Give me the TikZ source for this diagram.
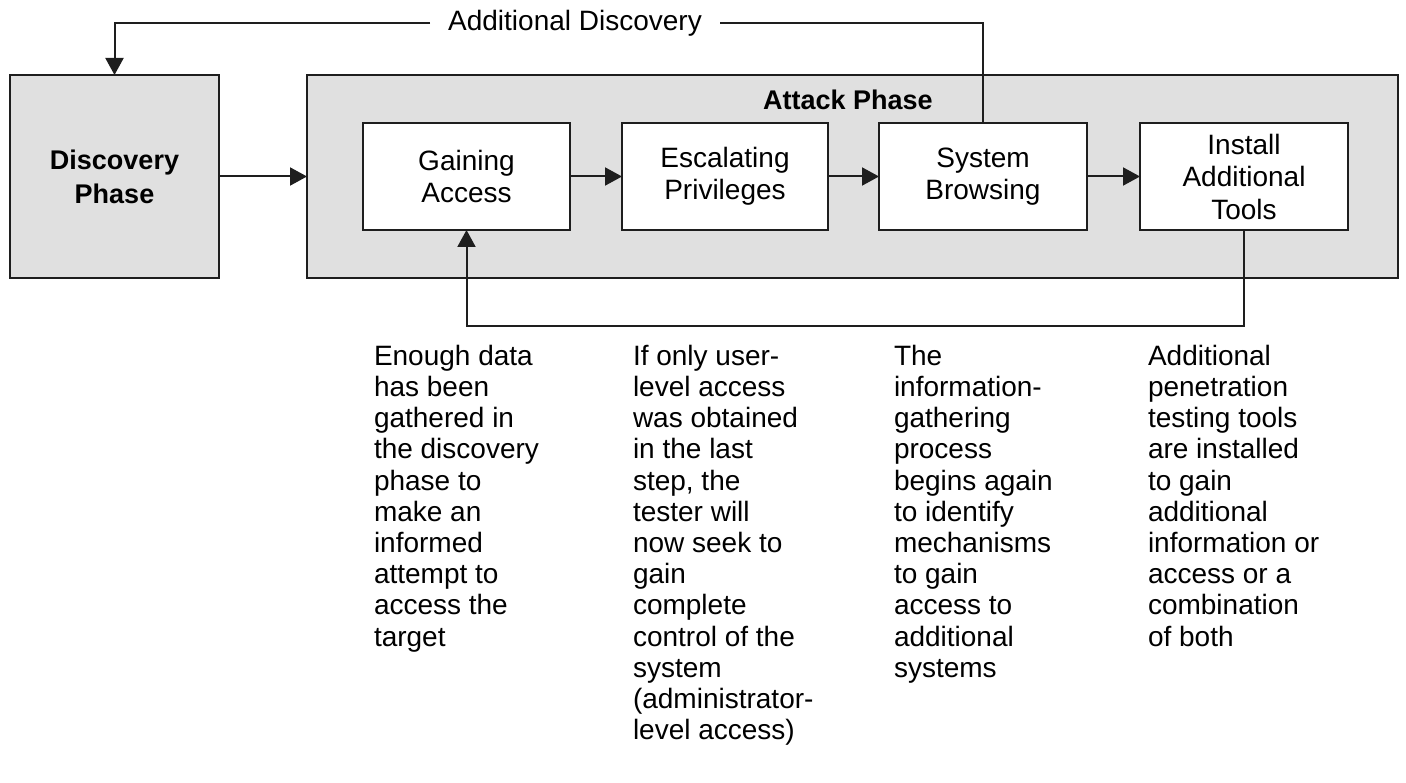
\documentclass[tikz,border=0pt]{standalone}
\usepackage{fontspec}
\setmainfont{Liberation Sans}
\usetikzlibrary{arrows.meta}
\definecolor{phasegray}{RGB}{224,224,224}
\definecolor{ink}{RGB}{30,30,30}
\tikzset{
  every node/.style={inner sep=0pt, outer sep=0pt},
  phasebox/.style={draw=ink, line width=2.2pt, fill=phasegray, rectangle},
  stepbox/.style={draw=ink, line width=2.2pt, fill=white, rectangle,
    minimum width=207pt, minimum height=107pt, align=center,
    font=\fontsize{28}{32.5}\selectfont},
  phasetitle/.style={font=\bfseries\fontsize{27}{34}\selectfont, align=center},
  note/.style={anchor=north west, align=left, font=\fontsize{28}{31.2}\selectfont},
  link/.style={draw=ink, line width=2pt, -{Triangle[length=17pt,width=18pt]}},
  plainlink/.style={draw=ink, line width=2pt}
}
\begin{document}
\begin{tikzpicture}[x=1pt, y=-1pt]
\useasboundingbox (0,0) rectangle (1406,783);

% phases
\node[phasebox, minimum width=209pt, minimum height=203pt, phasetitle] (disc) at (114.5,176.5) {Discovery\\Phase};
\node[phasebox, minimum width=1091pt, minimum height=203pt] (attack) at (852.5,176.5) {};
\node[phasetitle, anchor=base] (attacktitle) at (848,110) {Attack Phase};

% attack steps
\node[stepbox] (gain) at (466.5,176.5) {Gaining\\Access};
\node[stepbox, minimum width=206pt] (esc) at (725,176.5) {Escalating\\Privileges};
\node[stepbox, minimum width=208pt] (sys) at (983,176.5) {System\\Browsing};
\node[stepbox, minimum width=208pt] (inst) at (1244,176.5) {Install\\Additional\\Tools};

% flow between phases and steps
\draw[link] (disc.east) -- (attack.west);
\draw[link] (gain.east) -- (esc.west);
\draw[link] (esc.east) -- (sys.west);
\draw[link] (sys.east) -- (inst.west);

% loop back to discovery
\node[font=\fontsize{28}{32}\selectfont, inner xsep=18pt, inner ysep=4pt] (addl) at (575,23) {Additional Discovery};
\draw[plainlink] (sys.north) |- (addl.east);
\draw[link] (addl.west) -| (disc.north);

% loop back to gaining access
\coordinate (loop) at (1244,326);
\draw[link] (inst.south) -- (loop) -| (gain.south);

% step descriptions
\node[note] (n1) at (374,345) {Enough data\\has been\\gathered in\\the discovery\\phase to\\make an\\informed\\attempt to\\access the\\target};
\node[note] (n2) at (633,345) {If only user-\\level access\\was obtained\\in the last\\step, the\\tester will\\now seek to\\gain\\complete\\control of the\\system\\(administrator-\\level access)};
\node[note] (n3) at (894,345) {The\\information-\\gathering\\process\\begins again\\to identify\\mechanisms\\to gain\\access to\\additional\\systems};
\node[note] (n4) at (1148,345) {Additional\\penetration\\testing tools\\are installed\\to gain\\additional\\information or\\access or a\\combination\\of both};
\end{tikzpicture}
\end{document}
